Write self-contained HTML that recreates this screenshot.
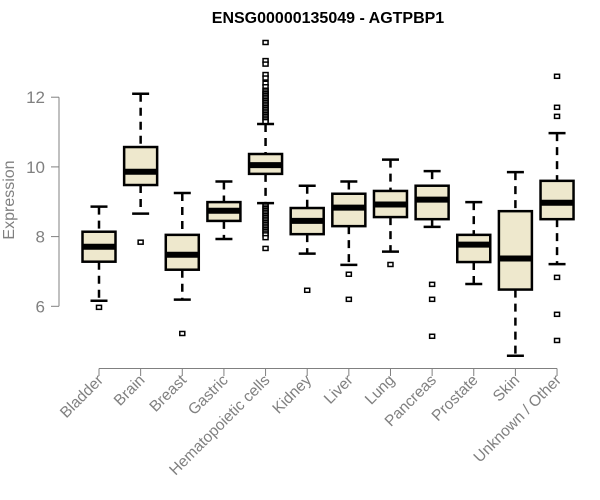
<!DOCTYPE html>
<html><head><meta charset="utf-8"><style>
body{margin:0;background:#fff}
svg{display:block}
text{font-family:"Liberation Sans",Arial,sans-serif}
</style></head><body>
<svg id="chart" width="600" height="500">
<text x="328" y="23" text-anchor="middle" font-weight="bold" font-size="16">ENSG00000135049 - AGTPBP1</text>
<text transform="translate(14,200) rotate(-90)" text-anchor="middle" font-size="16" fill="#808080">Expression</text>
<g id="yaxis"></g>
<g id="xaxis"></g>
<g id="boxes"></g>
</svg>
<script>
const categories=["Bladder","Brain","Breast","Gastric","Hematopoietic cells","Kidney","Liver","Lung","Pancreas","Prostate","Skin","Unknown / Other"];
const whiskerLow=[6.16,8.66,6.19,7.93,8.96,7.51,7.19,7.57,8.28,6.64,4.58,7.21];
const q1=[7.28,9.48,7.05,8.45,9.80,8.07,8.30,8.56,8.50,7.27,6.48,8.50];
const medians=[7.71,9.86,7.48,8.74,10.05,8.45,8.83,8.92,9.06,7.77,7.37,8.97];
const q3=[8.14,10.57,8.05,8.99,10.37,8.82,9.23,9.31,9.46,8.05,8.73,9.60];
const whiskerHigh=[8.86,12.1,9.25,9.58,11.23,9.46,9.58,10.21,9.88,8.99,9.85,10.97];
const outliers=[[5.97],[7.84],[5.22],[],
[13.57,13.05,12.95,12.65,12.55,12.4,12.3,12.2,12.15,12.1,12.05,12.0,11.95,11.9,11.85,11.8,11.75,11.7,11.65,11.6,11.55,11.5,11.45,11.4,11.35,11.3,8.9,8.85,8.8,8.75,8.7,8.65,8.6,8.55,8.5,8.45,8.4,8.35,8.3,8.25,8.2,8.15,8.1,8.05,7.97,7.66],
[6.46],[6.92,6.2],[7.2],[6.63,6.2,5.14],[],[],[12.6,11.71,11.45,6.83,5.77,5.02]];
const yTicks=[6,8,10,12];
const NS="http://www.w3.org/2000/svg";
const y=v=>306.3-(v-6)*34.85;
const x=i=>99+i*41.64;
function mk(tag,attrs,parent){const e=document.createElementNS(NS,tag);for(const k in attrs)e.setAttribute(k,attrs[k]);parent.appendChild(e);return e;}
const ya=document.getElementById('yaxis');
mk('line',{x1:59,x2:59,y1:y(12),y2:y(6),stroke:'#808080'},ya);
yTicks.forEach(t=>{
 mk('line',{x1:51,x2:59,y1:y(t),y2:y(t),stroke:'#808080'},ya);
 const tx=mk('text',{x:45,y:y(t)+6,'text-anchor':'end','font-size':17,fill:'#808080'},ya);
 tx.textContent=t;
 
 
});
const xa=document.getElementById('xaxis');
mk('line',{x1:x(0),x2:x(11),y1:368.5,y2:368.5,stroke:'#808080'},xa);
categories.forEach((c,i)=>{
 mk('line',{x1:x(i),x2:x(i),y1:368.5,y2:376,stroke:'#808080'},xa);
 const tx=mk('text',{transform:`translate(${x(i)+5},381) rotate(-45)`,'text-anchor':'end','font-size':15.5,fill:'#808080'},xa);
 tx.textContent=c;
 
 
});
const bx=document.getElementById('boxes');
categories.forEach((c,i)=>{
 const g=mk('g',{},bx);
 
 
 const cx=x(i),hw=16.5;
 mk('line',{x1:cx,x2:cx,y1:y(whiskerHigh[i]),y2:y(q3[i]),stroke:'#000','stroke-width':2.5,'stroke-dasharray':'8,6'},g);
 mk('line',{x1:cx,x2:cx,y1:y(q1[i]),y2:y(whiskerLow[i]),stroke:'#000','stroke-width':2.5,'stroke-dasharray':'8,6'},g);
 mk('line',{x1:cx-8.5,x2:cx+8.5,y1:y(whiskerHigh[i]),y2:y(whiskerHigh[i]),stroke:'#000','stroke-width':2.5},g);
 mk('line',{x1:cx-8.5,x2:cx+8.5,y1:y(whiskerLow[i]),y2:y(whiskerLow[i]),stroke:'#000','stroke-width':2.5},g);
 mk('rect',{x:cx-hw,y:y(q3[i]),width:2*hw,height:y(q1[i])-y(q3[i]),fill:'#EEE8CD',stroke:'#000','stroke-width':2.5},g);
 mk('line',{x1:cx-hw,x2:cx+hw,y1:y(medians[i]),y2:y(medians[i]),stroke:'#000','stroke-width':6},g);
 outliers[i].forEach(v=>{
  const p=mk('rect',{x:cx-2.5,y:y(v)-2,width:5,height:4,fill:'#fff',stroke:'#000','stroke-width':1.5},g);
  
  
 });
});
</script>
</body></html>
